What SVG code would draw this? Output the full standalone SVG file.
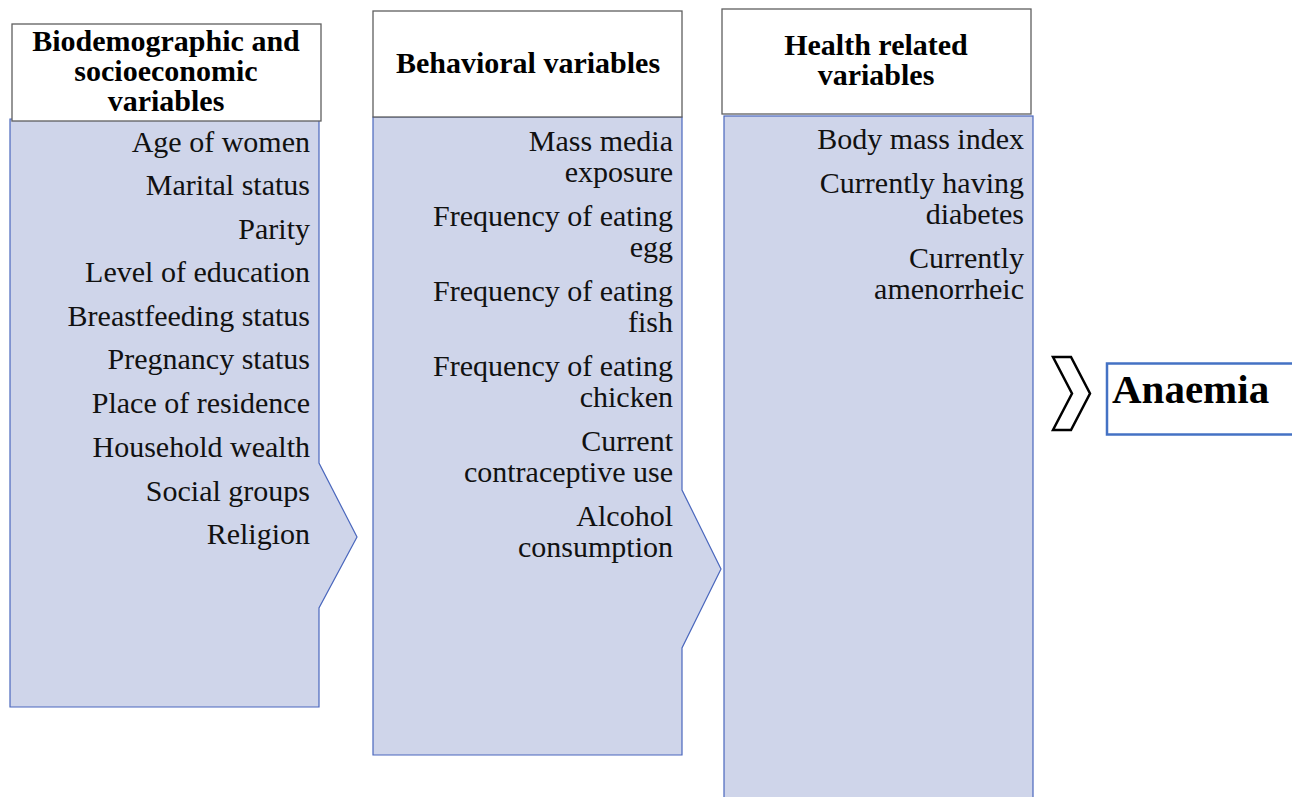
<svg xmlns="http://www.w3.org/2000/svg" width="1292" height="797" viewBox="0 0 1292 797">
  <style>
    .panel { fill: #cfd5ea; stroke: #4a67bd; stroke-width: 1.2; }
    .head { fill: #ffffff; stroke: #5f5f5f; stroke-width: 1.3; }
  </style>
  <rect width="1292" height="797" fill="#ffffff"/>

  <g font-family="'Liberation Serif', 'Times New Roman', serif">
  <!-- column 1: biodemographic and socioeconomic -->
  <g id="col-bio">
    <polygon class="panel" points="10,119 319,119 319,463 357,537 319,608 319,707 10,707"/>
    <rect class="head" x="12" y="24" width="309" height="97"/>
    <g font-weight="bold" font-size="30" fill="#000" text-anchor="middle">
      <text x="166" y="51">Biodemographic and</text>
      <text x="166" y="81">socioeconomic</text>
      <text x="166" y="111">variables</text>
    </g>
    <g font-size="30" fill="#111" text-anchor="end">
      <text x="310" y="152">Age of women</text>
      <text x="310" y="195">Marital status</text>
      <text x="310" y="239">Parity</text>
      <text x="310" y="282">Level of education</text>
      <text x="310" y="326">Breastfeeding status</text>
      <text x="310" y="369">Pregnancy status</text>
      <text x="310" y="413">Place of residence</text>
      <text x="310" y="457">Household wealth</text>
      <text x="310" y="501">Social groups</text>
      <text x="310" y="544">Religion</text>
    </g>
  </g>

  <!-- column 2: behavioral -->
  <g id="col-behav">
    <polygon class="panel" points="373,117 682,117 682,490 721,569 682,648 682,755 373,755"/>
    <rect class="head" x="373" y="11" width="309" height="106"/>
    <text x="528" y="73" font-weight="bold" font-size="30" fill="#000" text-anchor="middle">Behavioral variables</text>
    <g font-size="30" fill="#111" text-anchor="end">
      <text x="673" y="151">Mass media</text>
      <text x="673" y="182">exposure</text>
      <text x="673" y="226">Frequency of eating</text>
      <text x="673" y="257">egg</text>
      <text x="673" y="301">Frequency of eating</text>
      <text x="673" y="332">fish</text>
      <text x="673" y="376">Frequency of eating</text>
      <text x="673" y="407">chicken</text>
      <text x="673" y="451">Current</text>
      <text x="673" y="482">contraceptive use</text>
      <text x="673" y="526">Alcohol</text>
      <text x="673" y="557">consumption</text>
    </g>
  </g>

  <!-- column 3: health related -->
  <g id="col-health">
    <rect class="panel" x="724" y="116" width="309" height="690"/>
    <rect class="head" x="722" y="9" width="309" height="105"/>
    <g font-weight="bold" font-size="30" fill="#000" text-anchor="middle">
      <text x="876" y="55">Health related</text>
      <text x="876" y="85">variables</text>
    </g>
    <g font-size="30" fill="#111" text-anchor="end">
      <text x="1024" y="149">Body mass index</text>
      <text x="1024" y="193">Currently having</text>
      <text x="1024" y="224">diabetes</text>
      <text x="1024" y="268">Currently</text>
      <text x="1024" y="299">amenorrheic</text>
    </g>
  </g>

  <!-- outcome pointer -->
  <g id="connectors">
    <polygon points="1053,357 1071,357 1090,393.5 1071,430 1053,430 1072,393.5" fill="#ffffff" stroke="#000000" stroke-width="2.5" stroke-linejoin="miter"/>
  </g>

  <!-- outcome -->
  <g id="outcome">
    <rect x="1107" y="363.5" width="200" height="71" fill="#ffffff" stroke="#4472c4" stroke-width="2.5"/>
    <text x="1112" y="403" font-weight="bold" font-size="41" fill="#000">Anaemia</text>
  </g>
  </g>
</svg>
